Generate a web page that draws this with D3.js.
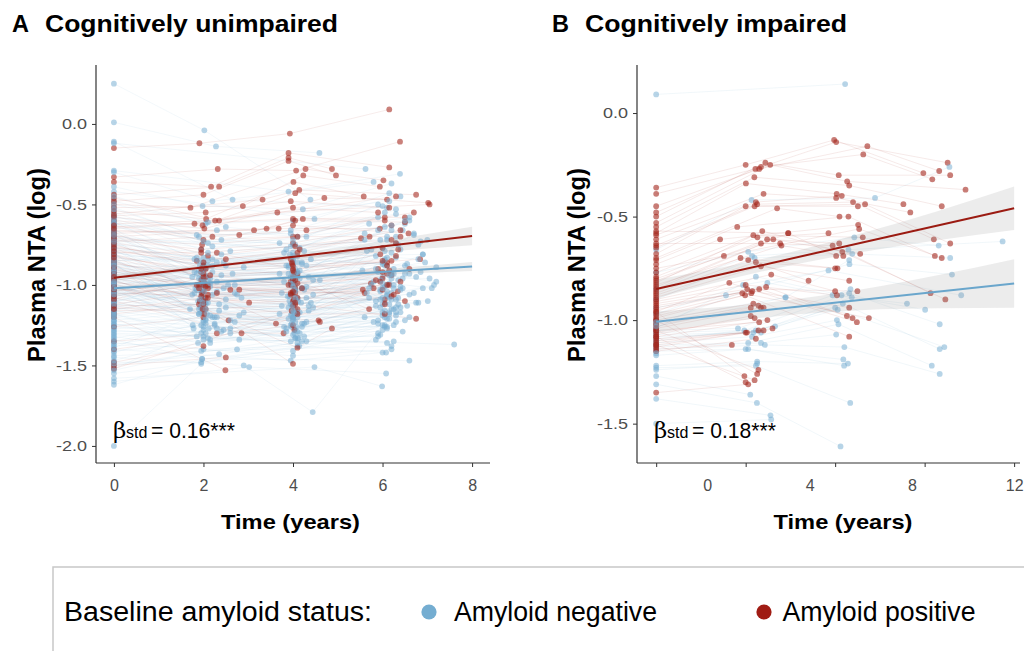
<!DOCTYPE html>
<html>
<head>
<meta charset="utf-8">
<script src="https://cdn.jsdelivr.net/npm/d3@7"></script>
<style>
  body { margin: 0; background: #fff; }
  svg { display: block; font-family: "Liberation Sans", Arial, sans-serif; }
</style>
</head>
<body>
<svg id="chart" width="1024" height="651"></svg>
<script>
// ---- Plasma NTA trajectories: each subject is a flat list [time, value, time, value, ...] ----

// A: cognitively unimpaired, amyloid negative at baseline
const cuNeg = [
  [0,0.25, 2.02,-0.04, 4.39,-0.47],
  [0,0.01, 2.28,-0.14, 4.59,-0.18],
  [0,-0.11, 2.65,-0.47, 6.1,-0.52],
  [0,-0.12, 5.62,-0.28],
  [0,-0.29, 3.90,-0.42, 6.39,-0.31],
  [0,-0.30, 2.20,-0.48, 5.80,-0.36],
  [0,-0.39, 1.98,-0.51, 4.22,-0.53, 6.20,-0.37],
  [0,-0.42, 4.48,-0.59, 6.15,-0.43],
  [0,-0.48, 2.05,-0.62, 4.0,-0.60, 6.4,-0.45],
  [0,-0.52, 1.9,-0.70, 3.95,-0.66, 6.0,-0.51],
  [0,-0.55, 2.1,-0.74, 6.3,-0.56],
  [0,-0.58, 2.3,-0.66, 4.1,-0.70, 5.9,-0.58],
  [0,-0.60, 1.95,-0.78, 6.5,-0.62],
  [0,-0.62, 2.4,-0.72, 4.05,-0.75, 6.05,-0.64],
  [0,-0.64, 4.0,-0.80, 6.2,-0.66],
  [0,-0.66, 1.85,-0.83, 3.85,-0.78, 6.6,-0.60],
  [0,-0.68, 2.0,-0.86, 4.1,-0.82, 6.1,-0.70],
  [0,-0.70, 2.6,-0.79, 5.95,-0.72],
  [0,-0.71, 1.92,-0.88, 4.0,-0.85, 6.3,-0.74],
  [0,-0.73, 3.95,-0.76, 6.0,-0.77],
  [0,-0.74, 2.05,-0.90, 4.2,-0.87, 6.7,-0.68],
  [0,-0.76, 1.8,-0.92, 6.2,-0.80],
  [0,-0.77, 2.2,-0.84, 4.05,-0.90, 5.85,-0.82],
  [0,-0.79, 1.97,-0.95, 3.9,-0.93, 6.4,-0.78],
  [0,-0.80, 4.1,-0.95, 6.05,-0.85],
  [0,-0.82, 2.1,-0.97, 4.0,-0.98, 6.1,-0.88],
  [0,-0.83, 2.5,-0.88, 6.8,-0.75],
  [0,-0.85, 1.9,-1.00, 3.95,-1.00, 6.25,-0.90],
  [0,-0.86, 2.0,-1.02, 4.15,-0.96, 5.9,-0.92],
  [0,-0.87, 4.05,-1.03, 6.0,-0.95],
  [0,-0.88, 1.95,-1.05, 3.98,-1.05, 6.35,-0.97],
  [0,-0.89, 2.3,-0.98, 6.15,-0.99],
  [0,-0.90, 2.0,-1.08, 4.1,-1.08, 6.05,-1.01],
  [0,-0.91, 1.88,-1.10, 6.5,-0.93],
  [0,-0.92, 2.15,-1.01, 3.92,-1.10, 5.95,-1.03],
  [0,-0.93, 4.0,-1.12, 6.2,-1.05],
  [0,-0.94, 2.05,-1.12, 4.05,-1.15, 6.1,-1.07],
  [0,-0.95, 1.93,-1.14, 6.3,-1.09],
  [0,-0.96, 2.7,-1.05, 4.2,-1.02, 5.85,-1.10],
  [0,-0.97, 2.0,-1.16, 3.97,-1.18, 6.0,-1.12],
  [0,-0.98, 4.1,-1.20, 6.4,-1.14],
  [0,-0.99, 1.9,-1.18, 4.0,-1.22, 6.15,-1.17],
  [0,-1.00, 2.2,-1.20, 6.05,-1.20],
  [0,-1.01, 2.0,-1.22, 3.95,-1.25, 5.9,-1.22],
  [0,-1.02, 4.05,-1.28, 6.25,-1.25],
  [0,-1.03, 1.95,-1.25, 4.15,-1.30, 6.1,-1.27],
  [0,-1.04, 2.45,-1.28, 6.9,-1.02],
  [0,-1.05, 2.1,-0.85, 4.0,-0.82, 6.05,-0.79],
  [0,-1.06, 1.85,-0.93, 3.9,-0.89, 6.3,-0.83],
  [0,-1.07, 2.0,-0.99, 4.1,-0.94, 6.0,-0.87],
  [0,-1.08, 2.3,-1.04, 6.2,-0.93],
  [0,-1.09, 1.97,-1.07, 4.05,-1.00, 6.45,-0.96],
  [0,-1.10, 4.0,-1.06, 6.1,-1.00],
  [0,-1.11, 2.05,-1.11, 3.95,-1.12, 5.95,-1.04],
  [0,-1.12, 1.9,-1.15, 6.35,-1.08],
  [0,-1.13, 2.15,-1.19, 4.1,-1.17, 6.05,-1.11],
  [0,-1.14, 2.0,-1.23, 4.0,-1.20, 6.2,-1.15],
  [0,-1.16, 2.6,-1.27, 6.0,-1.19],
  [0,-1.18, 1.95,-1.30, 3.97,-1.26, 6.3,-1.23],
  [0,-1.20, 4.05,-1.33, 6.1,-1.21],
  [0,-1.22, 2.1,-1.33, 4.2,-1.35, 5.9,-1.24],
  [0,-1.24, 1.88,-1.36, 6.4,-1.17],
  [0,-1.26, 2.05,-1.30, 4.1,-1.38, 6.0,-1.28],
  [0,-1.28, 2.8,-1.34, 6.55,-1.13],
  [0,-1.30, 7.6,-1.37],
  [0,-1.32, 2.0,-1.40, 4.14,-1.38, 6.08,-1.42],
  [0,-1.34, 1.97,-1.46, 5.85,-1.34],
  [0,-1.36, 4.0,-1.44, 6.2,-1.40],
  [0,-1.38, 2.15,-1.34, 6.1,-1.36],
  [0,-1.40, 3.95,-1.47, 6.0,-1.42],
  [0,-1.42, 2.25,-1.25, 4.05,-1.33],
  [0,-1.45, 2.9,-1.50, 4.44,-1.79, 6.0,-1.25],
  [0,-1.48, 1.95,-1.48, 5.9,-1.30],
  [0,-1.50, 4.1,-1.33, 6.25,-1.15],
  [0,-1.52, 2.0,-1.28, 6.15,-1.12],
  [0,-1.55, 4.0,-1.41, 6.05,-1.25],
  [0,-1.58, 4.48,-1.51, 5.99,-1.63],
  [0,-1.60, 3.02,-1.51, 6.08,-1.55],
  [0,-1.62, 1.97,-1.46, 6.6,-1.47],
  [0,-2.00, 1.95,-1.49],
  [0,-0.62, 4.0,-0.75, 7.0,-0.72],
  [0,-0.75, 2.1,-0.80, 7.2,-0.89],
  [0,-0.85, 6.9,-0.81],
  [0,-0.95, 4.1,-0.92, 7.1,-1.02],
  [0,-1.05, 7.01,-1.10],
  [0,-0.88, 2.2,-0.92, 6.75,-0.95],
  [0,-0.70, 6.8,-0.84],
  [0,-1.15, 4.3,-1.08, 6.6,-1.06],
  [0,-0.80, 2.0,-0.88, 4.0,-0.84, 6.5,-0.88],
  [0,-0.92, 1.95,-0.96, 3.98,-0.92, 6.0,-0.86],
  [0,-1.00, 2.05,-0.94, 4.02,-0.97, 6.15,-0.94],
  [0,-0.78, 2.0,-0.83, 4.0,-0.87, 6.1,-0.83],
  [0,-1.10, 1.95,-1.03, 4.05,-1.03, 6.25,-1.02],
  [0,-0.98, 2.0,-1.00, 3.95,-0.95, 5.95,-0.97],
  [0,-0.82, 4.2,-0.86, 6.3,-0.70],
  [0,-1.25, 2.3,-1.20, 4.0,-1.12, 5.95,-1.09],
  [0,-0.96, 2.9,-0.89, 4.6,-0.97],
  [0,-1.02, 1.75,-1.06, 4.45,-1.06, 5.75,-1.00],
  [0,-0.72, 3.7,-0.74, 5.6,-0.68],
  [0,-0.86, 2.0,-0.90, 4.05,-0.93, 6.2,-0.93],
  [0,-0.61, 1.8,-0.84, 3.8,-0.80, 5.7,-0.62],
  [0,-0.63, 2.45,-0.86, 6.45,-0.66],
  [0,-0.65, 1.75,-0.95, 4.3,-0.88, 6.85,-0.73],
  [0,-0.67, 2.15,-0.96, 3.7,-0.93, 5.65,-0.79],
  [0,-0.69, 2.55,-1.00, 4.45,-0.97, 6.95,-0.86],
  [0,-0.72, 1.82,-1.02, 4.0,-0.99, 6.05,-0.88],
  [0,-0.74, 2.75,-1.06, 4.25,-1.03, 5.55,-0.91],
  [0,-0.76, 2.0,-1.09, 3.88,-1.07, 6.6,-0.93],
  [0,-0.78, 2.35,-1.12, 4.12,-1.10, 6.2,-0.96],
  [0,-0.80, 1.7,-1.15, 3.75,-1.13, 5.8,-0.98],
  [0,-0.81, 2.9,-1.17, 4.35,-1.16, 7.15,-1.00],
  [0,-0.83, 2.05,-1.21, 3.95,-1.19, 6.4,-1.03],
  [0,-0.84, 2.25,-1.24, 4.05,-1.23, 6.1,-1.06],
  [0,-0.86, 1.78,-1.27, 4.2,-1.26, 5.7,-1.08],
  [0,-0.87, 2.6,-1.30, 3.85,-1.29, 6.75,-1.11],
  [0,-0.89, 2.1,-0.88, 4.4,-0.84, 6.3,-1.14],
  [0,-0.90, 1.9,-0.91, 3.9,-0.88, 6.0,-1.17],
  [0,-0.92, 2.4,-0.94, 4.15,-0.91, 5.6,-1.20],
  [0,-0.93, 2.0,-0.97, 4.0,-0.95, 6.5,-0.60],
  [0,-0.95, 2.7,-1.00, 3.8,-0.98, 6.2,-0.63],
  [0,-0.96, 1.85,-1.03, 4.3,-1.01, 5.9,-0.66],
  [0,-0.97, 2.2,-1.06, 4.05,-1.04, 6.7,-0.69],
  [0,-0.98, 2.5,-1.09, 3.92,-1.07, 6.1,-0.72],
  [0,-1.00, 1.95,-1.13, 4.18,-1.11, 6.35,-0.75],
  [0,-1.01, 2.35,-1.16, 4.45,-1.14, 5.75,-0.78],
  [0,-1.03, 2.8,-1.19, 3.7,-1.18, 6.9,-0.81],
  [0,-1.04, 2.05,-1.22, 4.0,-1.21, 6.05,-0.84],
  [0,-1.05, 1.76,-1.25, 4.25,-1.24, 6.55,-0.87],
  [0,-1.07, 2.3,-0.86, 3.85,-0.88, 5.85,-0.90],
  [0,-1.08, 2.0,-0.90, 4.1,-0.92, 6.25,-0.93],
  [0,-1.10, 2.65,-0.93, 4.35,-0.95, 7.05,-0.96],
  [0,-1.11, 1.9,-0.96, 3.95,-0.99, 6.0,-0.99],
  [0,-1.13, 2.15,-0.99, 4.2,-1.02, 6.45,-1.02],
  [0,-1.14, 2.45,-1.02, 3.75,-1.05, 5.65,-1.05],
  [0,-1.16, 1.8,-1.05, 4.05,-1.08, 6.15,-1.08],
  [0,-1.17, 2.85,-1.08, 4.4,-1.11, 6.8,-1.11],
  [0,-1.19, 2.1,-1.11, 3.9,-1.14, 5.95,-1.14],
  [0,-1.20, 2.5,-1.14, 4.15,-1.17, 6.3,-1.17],
  [0,-1.22, 1.95,-1.17, 4.0,-1.20, 6.6,-1.20],
  [0,-1.23, 2.25,-1.20, 4.3,-1.23, 5.8,-1.23],
  [0,-1.25, 2.7,-1.23, 3.8,-1.26, 6.1,-1.26],
  [0,-1.27, 2.0,-1.26, 4.1,-1.29, 6.45,-1.29],
  [0,-1.29, 2.4,-1.29, 4.25,-1.32, 5.9,-1.32],
  [0,-1.31, 1.85,-1.32, 3.95,-1.35, 6.25,-1.35],
  [0,-1.33, 2.6,-1.22, 4.05,-1.18, 6.7,-1.05],
  [0,-1.35, 2.05,-1.24, 3.9,-1.21, 6.0,-1.08],
  [0,-1.37, 2.3,-1.27, 4.2,-1.24, 6.35,-1.12],
  [0,-1.39, 1.9,-1.18, 4.35,-1.13, 5.7,-1.02],
  [0,-1.41, 2.15,-1.36, 4.0,-1.31, 6.15,-1.18],
  [0,-1.44, 2.75,-1.40, 4.1,-1.36, 6.5,-1.22],
  [0,-1.47, 2.0,-1.32, 3.85,-1.27, 6.05,-1.26],
  [0,-1.49, 2.35,-1.43, 4.3,-1.35, 5.95,-1.31],
  [0,-1.53, 1.95,-1.41, 6.2,-1.38],
  [0,-0.57, 2.0,-0.73, 4.0,-0.72, 6.05,-0.55],
  [0,-0.59, 2.2,-0.76, 4.15,-0.77, 6.3,-0.53],
  [0,-0.53, 1.85,-0.69, 3.95,-0.68, 6.6,-0.58],
  [0,-0.50, 2.5,-0.64, 4.3,-0.70, 5.9,-0.50],
  [0,-0.45, 2.1,-0.61, 6.15,-0.48],
  [0,-0.69, 2.0,-0.98, 4.05,-1.09, 6.25,-1.00],
  [0,-0.88, 1.98,-1.11, 4.0,-1.16, 6.1,-1.04],
  [0,-0.94, 2.02,-1.04, 3.98,-1.13, 6.0,-1.02],
  [0,-1.06, 1.92,-1.09, 4.02,-1.17, 6.2,-1.09],
  [0,-0.99, 2.08,-1.18, 4.08,-1.26, 5.85,-1.13],
  [0,-0.91, 1.96,-0.92, 4.0,-1.01, 6.4,-1.01],
  [0,-1.12, 2.05,-1.15, 3.97,-1.24, 6.05,-1.16],
  [0,-1.18, 2.0,-1.34, 4.03,-1.30, 6.3,-1.19],
  [0,-1.02, 2.12,-1.27, 4.12,-1.33, 6.15,-1.21],
  [0,-0.73, 1.9,-0.85, 3.93,-0.81, 5.6,-0.72],
  [0,-0.85, 2.4,-0.81, 4.25,-0.79, 6.85,-0.92],
  [0,-0.98, 2.2,-0.88, 4.1,-0.86, 7.2,-0.98]
];

// A: cognitively unimpaired, amyloid positive at baseline
const cuPos = [
  [0,-0.15, 1.91,-0.12, 3.93,-0.06, 6.15,0.09],
  [0,-0.33, 2.32,-0.28, 4.07,-0.29, 6.39,-0.11],
  [0,-0.36, 2.17,-0.39, 3.90,-0.18, 6.15,-0.27],
  [0,-0.44, 2.35,-0.39, 3.90,-0.21, 4.87,-0.28],
  [0,-0.48, 2.0,-0.44, 3.90,-0.23, 4.96,-0.32],
  [0,-0.50, 1.71,-0.52, 4.28,-0.28, 6.02,-0.35],
  [0,-0.52, 2.88,-0.51, 4.23,-0.32, 5.94,-0.39],
  [0,-0.54, 2.06,-0.59, 4.01,-0.36, 5.58,-0.45],
  [0,-0.56, 3.32,-0.47, 4.14,-0.41, 6.75,-0.44],
  [0,-0.58, 1.98,-0.63, 4.05,-0.43, 7.02,-0.49],
  [0,-0.60, 2.02,-0.65, 4.70,-0.46, 6.1,-0.47],
  [0,-0.62, 2.26,-0.60, 3.65,-0.55, 7.05,-0.50],
  [0,-0.64, 4.0,-0.59, 6.5,-0.58],
  [0,-0.66, 2.80,-0.69, 4.05,-0.60, 6.5,-0.61],
  [0,-0.67, 3.13,-0.66, 4.0,-0.63, 6.58,-0.68],
  [0,-0.68, 3.41,-0.65, 4.22,-0.59, 6.05,-0.60],
  [0,-0.70, 3.68,-0.65, 5.94,-0.65],
  [0,-0.72, 1.95,-0.78, 4.0,-0.74, 6.2,-0.63],
  [0,-0.74, 2.1,-0.82, 5.52,-0.71],
  [0,-0.76, 1.85,-0.85, 4.1,-0.80, 5.71,-0.70],
  [0,-0.78, 2.0,-0.88, 3.95,-0.84, 6.0,-0.77],
  [0,-0.80, 2.3,-0.80, 4.0,-0.90, 6.84,-0.84],
  [0,-0.82, 1.95,-0.92, 6.1,-0.86],
  [0,-0.84, 2.05,-0.95, 4.1,-0.93, 6.3,-0.82],
  [0,-0.86, 2.0,-0.98, 4.0,-0.97, 5.9,-0.90],
  [0,-0.88, 1.9,-1.00, 3.97,-1.00, 6.2,-0.94],
  [0,-0.90, 2.1,-1.02, 4.05,-1.02, 5.74,-0.99],
  [0,-0.92, 2.6,-1.03, 5.56,-1.03],
  [0,-0.94, 2.8,-1.03, 4.0,-1.05, 6.34,-1.04],
  [0,-0.96, 1.97,-1.05, 4.1,-1.08, 6.05,-1.09],
  [0,-0.98, 2.05,-1.08, 6.15,-1.00],
  [0,-1.00, 3.02,-1.11, 4.0,-1.10],
  [0,-1.02, 1.92,-1.10, 4.05,-1.12, 6.75,-1.21],
  [0,-1.04, 2.0,-0.98, 4.0,-0.95, 6.1,-0.93],
  [0,-1.06, 2.1,-1.00, 3.95,-0.98, 6.0,-0.96],
  [0,-1.08, 2.56,-1.22, 3.62,-1.24, 5.6,-1.05],
  [0,-1.10, 2.85,-1.30, 3.79,-1.30],
  [0,-1.12, 2.0,-1.04, 4.03,-1.28],
  [0,-1.14, 4.57,-1.22, 6.05,-1.12],
  [0,-1.16, 2.05,-1.15, 4.10,-1.39, 4.87,-1.27],
  [0,-1.18, 1.9,-1.12, 4.0,-1.49],
  [0,-1.20, 2.49,-1.53],
  [0,-1.26, 2.0,-1.20, 4.6,-1.23],
  [0,-1.35, 2.3,-1.30, 4.1,-1.15],
  [0,-1.40, 4.0,-1.25],
  [0,-1.48, 2.0,-1.38],
  [0,-1.50, 2.5,-1.45],
  [0,-1.52, 6.1,-1.00],
  [0,-0.46, 2.35,-0.60, 6.3,-0.45],
  [0,-0.87, 2.0,-0.93, 4.02,-0.92, 6.2,-0.85],
  [0,-0.91, 1.95,-0.97, 4.0,-0.96, 6.15,-0.91],
  [0,-0.99, 2.05,-1.01, 4.05,-1.05, 5.95,-0.98],
  [0,-0.79, 2.0,-0.86, 3.98,-0.87, 6.35,-0.78],
  [0,-0.71, 1.97,-0.75, 4.1,-0.70, 6.4,-0.70],
  [0,-1.05, 1.95,-1.07, 3.95,-1.06, 6.0,-1.03],
  [0,-0.63, 2.0,-0.72, 4.0,-0.70, 6.05,-0.58],
  [0,-0.69, 1.95,-0.80, 4.05,-0.76, 6.2,-0.72],
  [0,-0.75, 2.05,-0.90, 3.98,-0.86, 6.3,-0.74],
  [0,-0.81, 2.0,-0.95, 4.0,-0.91, 5.95,-0.81],
  [0,-0.85, 1.9,-1.02, 4.1,-0.99, 6.1,-0.88],
  [0,-0.89, 2.1,-1.06, 3.95,-1.05, 6.0,-0.92],
  [0,-0.93, 2.0,-1.10, 4.02,-1.09, 6.4,-0.98],
  [0,-0.97, 1.98,-1.15, 4.0,-1.13, 5.8,-1.02],
  [0,-1.01, 2.02,-1.18, 3.97,-1.16, 6.2,-1.07],
  [0,-1.03, 2.3,-1.05, 4.2,-1.02, 6.5,-1.10],
  [0,-1.07, 1.85,-1.00, 4.05,-0.97, 5.7,-1.15],
  [0,-1.09, 2.15,-0.94, 3.9,-1.00, 6.6,-0.90],
  [0,-1.13, 2.0,-1.12, 4.1,-1.18, 6.05,-1.18],
  [0,-0.73, 2.2,-0.70, 4.3,-0.66, 6.7,-0.55],
  [0,-0.65, 1.8,-0.62, 4.0,-0.52, 5.9,-0.55],
  [0,-0.57, 2.05,-0.55, 3.95,-0.48, 6.15,-0.52],
  [0,-0.77, 2.5,-0.84, 4.15,-0.78, 6.4,-0.66],
  [0,-0.95, 2.0,-1.00, 4.0,-1.04, 6.25,-1.06],
  [0,-1.15, 2.1,-1.08, 4.05,-1.11, 5.85,-0.97],
  [0,-0.83, 1.95,-0.90, 4.0,-0.88, 6.0,-0.85]
];

// B: cognitively impaired, amyloid negative at baseline
const ciNeg = [
  [-2,0.09, 5.39,0.14],
  [-2,-0.66, 1.73,-0.42, 6.56,-0.41, 9.47,-0.26],
  [-2,-0.77, 1.6,-0.67, 5.75,-0.60, 9.05,-0.64],
  [-2,-0.85, 1.75,-0.69, 5.52,-0.66, 11.55,-0.62],
  [-2,-0.90, 1.85,-0.70, 5.67,-0.68, 9.5,-0.70],
  [-2,-0.94, 0.73,-0.88, 5.56,-0.73, 9.57,-0.78],
  [-2,-0.97, 1.4,-0.83, 4.74,-0.76, 9.93,-0.88],
  [-2,-1.00, 3.05,-0.89, 5.55,-0.71],
  [-2,-1.02, 2.35,-0.82, 4.9,-0.88, 7.81,-0.92],
  [-2,-1.04, 1.9,-0.79, 5.25,-0.88, 8.52,-0.95],
  [-2,-1.05, 1.2,-1.04, 5.6,-0.85],
  [-2,-1.06, 1.45,-1.05, 5.55,-0.87, 9.09,-1.02],
  [-2,-1.07, 1.8,-1.06, 5.65,-0.89],
  [-2,-1.08, 2.1,-1.06, 5.3,-0.92, 9.09,-1.14],
  [-2,-1.09, 1.9,-1.05, 5.0,-0.94],
  [-2,-1.10, 2.65,-1.03, 5.1,-0.95, 9.27,-1.13],
  [-2,-1.11, 1.75,-1.08, 5.07,-1.00],
  [-2,-1.12, 1.6,-1.11, 5.13,-1.02, 8.78,-1.22],
  [-2,-1.13, 2.1,-1.11, 5.04,-1.07],
  [-2,-1.14, 2.25,-1.12, 5.36,-1.13, 9.09,-1.26],
  [-2,-1.15, 1.5,-1.14, 5.32,-1.19],
  [-2,-1.17, 1.6,-1.14, 5.35,-1.22],
  [-2,-1.22, 1.95,-1.20, 5.5,-1.21],
  [-2,-1.23, 1.9,-1.22, 5.59,-1.40],
  [-2,-1.24, 1.95,-1.21],
  [-2,-1.27, 1.68,-1.36],
  [-2,-1.31, 1.94,-1.40, 5.21,-1.61],
  [-2,-1.38, 2.47,-1.46],
  [-2,-1.50, 2.5,-1.48],
  [-2,-1.03, 3.07,-0.89],
  [-2,-1.01],
  [-2,-1.16]
];

// B: cognitively impaired, amyloid positive at baseline
const ciPos = [
  [-2,-0.36, 1.5,-0.25, 4.96,-0.13, 8.45,-0.29],
  [-2,-0.39, 1.88,-0.27, 5.04,-0.14, 9.4,-0.24],
  [-2,-0.45, 2.03,-0.27, 6.26,-0.16, 9.07,-0.28],
  [-2,-0.48, 2.1,-0.26, 6.1,-0.20, 8.8,-0.32],
  [-2,-0.50, 2.27,-0.24, 5.14,-0.30, 9.5,-0.30],
  [-2,-0.53, 2.46,-0.25, 5.47,-0.33, 10.1,-0.37],
  [-2,-0.55, 1.84,-0.31, 5.55,-0.35, 9.17,-0.45],
  [-2,-0.58, 1.51,-0.34, 5.06,-0.39, 7.67,-0.44],
  [-2,-0.59, 2.2,-0.39, 5.04,-0.41, 7.94,-0.48],
  [-2,-0.61, 1.9,-0.43, 5.26,-0.40],
  [-2,-0.64, 1.95,-0.44, 5.7,-0.43, 8.86,-0.61],
  [-2,-0.65, 1.85,-0.45, 5.89,-0.45],
  [-2,-0.68, 1.5,-0.45, 6.17,-0.44, 9.5,-0.63],
  [-2,-0.70, 2.73,-0.46, 5.17,-0.50],
  [-2,-0.71, 1.17,-0.55, 5.52,-0.50, 8.9,-0.69],
  [-2,-0.73, 0.5,-0.61, 5.9,-0.54],
  [-2,-0.75, 0.65,-0.69, 5.94,-0.56, 9.17,-0.70],
  [-2,-0.77, 1.8,-0.59, 6.08,-0.60],
  [-2,-0.79, 1.96,-0.60, 4.74,-0.58],
  [-2,-0.80, 2.1,-0.63, 4.9,-0.64, 8.73,-0.87],
  [-2,-0.81, 2.34,-0.61, 5.16,-0.63],
  [-2,-0.82, 2.15,-0.57, 5.28,-0.67, 9.31,-0.90],
  [-2,-0.83, 2.9,-0.64, 5.32,-0.69],
  [-2,-0.84, 3.17,-0.58, 5.04,-0.69],
  [-2,-0.85, 2.58,-0.61, 5.98,-0.68],
  [-2,-0.86, 1.3,-0.70, 5.09,-0.75],
  [-2,-0.87, 1.6,-0.71, 3.96,-0.81],
  [-2,-0.88, 1.9,-0.72, 5.0,-0.75],
  [-2,-0.89, 2.1,-0.74, 5.55,-0.81],
  [-2,-0.90, 2.5,-0.78, 5.0,-0.86],
  [-2,-0.91, 1.5,-0.83, 5.07,-0.88],
  [-2,-0.92, 1.56,-0.85, 5.87,-0.86],
  [-2,-0.93, 1.76,-0.86, 5.55,-0.94],
  [-2,-0.94, 2.03,-0.85, 5.46,-0.98],
  [-2,-0.95, 2.3,-0.84, 5.68,-0.99],
  [-2,-0.96, 0.86,-0.82, 5.85,-1.01],
  [-2,-0.97, 1.37,-0.87, 6.32,-0.99],
  [-2,-0.98, 1.48,-0.88, 5.55,-1.08],
  [-2,-0.99, 1.72,-0.87],
  [-2,-1.00, 1.8,-0.92],
  [-2,-1.01, 2.0,-0.93],
  [-2,-1.02, 2.1,-0.94],
  [-2,-1.03, 1.7,-0.94],
  [-2,-1.04, 2.2,-0.94],
  [-2,-1.05, 2.03,-1.01],
  [-2,-1.06, 1.85,-0.99],
  [-2,-1.07, 1.7,-0.98],
  [-2,-1.08, 2.35,-1.00],
  [-2,-1.09, 1.5,-1.06],
  [-2,-1.10, 1.55,-1.06],
  [-2,-1.11, 2.0,-1.05],
  [-2,-1.12, 2.2,-1.05],
  [-2,-1.13, 2.55,-1.04],
  [-2,-1.14, 0.96,-1.12],
  [-2,-1.15, 1.9,-1.09],
  [-2,-1.05, 2.0,-1.24],
  [-2,-1.00, 1.95,-1.26],
  [-2,-0.96, 1.45,-1.27],
  [-2,-1.08, 1.5,-1.30],
  [-2,-1.35, 1.6,-1.31],
  [-2,-1.12, 1.85,-1.29],
  [-2,-0.63, 2.85,-0.63],
  [-2,-0.57, 3.16,-0.58]
];

// ---- Model fits: line end points [time, value] and confidence bands [time, lower, upper] ----
const fitCuNeg = [[0,-1.021],[8,-0.886]];
const fitCuPos = [[0,-0.955],[8,-0.696]];
const bandCuNeg = [[0,-1.036,-1.006],[2,-0.997,-0.977],[4,-0.964,-0.942],[6,-0.937,-0.903],[8,-0.914,-0.858]];
const bandCuPos = [[0,-0.975,-0.935],[2,-0.904,-0.876],[4,-0.843,-0.807],[6,-0.795,-0.727],[8,-0.754,-0.638]];

const fitCiNeg = [[-2,-1.008],[12,-0.823]];
const fitCiPos = [[-2,-0.850],[12,-0.460]];
const bandCiNeg = [[-2,-1.058,-0.958],[2,-0.990,-0.920],[6,-0.952,-0.852],[9,-0.943,-0.783],[12,-0.940,-0.706]];
const bandCiPos = [[-2,-0.895,-0.805],[2,-0.769,-0.709],[6,-0.672,-0.582],[9,-0.614,-0.474],[12,-0.565,-0.355]];

// ---- Axis ticks and labels ----
const yTicksA = [0, -0.5, -1, -1.5, -2];
const xTicksA = [0, 2, 4, 6, 8];
const yTicksB = [0, -0.5, -1, -1.5];
const xTickMarksB = [-2, 1.5, 5, 8.5, 12];
const xTickLabelsB = [0, 4, 8, 12];

const betaA = "0.16***";
const betaB = "0.18***";

const legendTitle = "Baseline amyloid status:";
const legendLabels = ["Amyloid negative", "Amyloid positive"];

// ---- Styling ----
const colNeg = "#74add1", colPos = "#a3261c";
const lineNeg = "#6aa6cc", linePos = "#9b1b12";

const svg = d3.select("#chart");

function pairs(flat) {
  const out = [];
  for (let i = 0; i < flat.length; i += 2) out.push([flat[i], flat[i + 1]]);
  return out;
}

// interleave two subject lists so neither group is drawn entirely on top
function interleave(a, b) {
  const out = [];
  const n = Math.max(a.length, b.length);
  for (let i = 0; i < n; i++) {
    const ia = Math.floor(i * a.length / n), ib = Math.floor(i * b.length / n);
    if (i * a.length % n < a.length) out.push({ s: a[ia], neg: true });
    if (i * b.length % n < b.length) out.push({ s: b[ib], neg: false });
  }
  return out;
}

// stretch a text element horizontally by factor k
function stretch(sel, k) {
  sel.each(function () {
    const w = this.getComputedTextLength();
    d3.select(this).attr("textLength", w * k).attr("lengthAdjust", "spacingAndGlyphs");
  });
}
function fitWidth(sel, w) {
  sel.attr("textLength", w).attr("lengthAdjust", "spacingAndGlyphs");
}

function drawPanel(p) {
  const g = svg.append("g");
  const x = d3.scaleLinear().domain(p.xDomain).range([p.left, p.right]);
  const y = d3.scaleLinear().domain(p.yDomain).range([p.bottom, p.top]);

  const path = d3.line().x(d => x(d[0])).y(d => y(d[1]));
  const subjects = interleave(p.neg, p.pos);

  // subject trajectories
  g.append("g").attr("fill", "none").attr("stroke-width", 0.6)
    .selectAll("path").data(subjects.filter(d => d.s.length > 2)).join("path")
    .attr("d", d => path(pairs(d.s)))
    .attr("stroke", d => d.neg ? colNeg : colPos)
    .attr("stroke-opacity", p.lineOpacity);

  // observations
  const pts = subjects.flatMap(d => pairs(d.s).map(q => ({ t: q[0], v: q[1], neg: d.neg })));
  g.append("g").selectAll("circle").data(pts).join("circle")
    .attr("cx", d => x(d.t)).attr("cy", d => y(d.v)).attr("r", 2.9)
    .attr("fill", d => d.neg ? colNeg : colPos)
    .attr("fill-opacity", d => d.neg ? 0.52 : p.posOpacity);

  // confidence bands
  const area = d3.area().curve(d3.curveMonotoneX)
    .x(d => x(d[0])).y0(d => y(d[1])).y1(d => y(d[2]));
  [p.bandNeg, p.bandPos].forEach(b => {
    g.append("path").attr("d", area(b)).attr("fill", "#8c8c8c").attr("fill-opacity", 0.17);
  });

  // fitted lines
  [[p.fitNeg, lineNeg], [p.fitPos, linePos]].forEach(([f, c]) => {
    g.append("path").attr("d", path(f)).attr("fill", "none")
      .attr("stroke", c).attr("stroke-width", 2);
  });

  // axes
  const axisStyle = a => {
    a.select(".domain").remove();
    a.selectAll(".tick line").attr("stroke", "#333").attr("stroke-width", 1);
    a.selectAll(".tick text").attr("fill", "#4d4d4d").attr("font-size", 15)
      .attr("font-family", "'Liberation Sans', Arial, sans-serif");
  };

  const yAxis = g.append("g").attr("transform", `translate(${p.left},0)`)
    .call(d3.axisLeft(y).tickValues(p.yTicks).tickSize(4).tickPadding(5)
      .tickFormat(v => v.toFixed(1)))
    .call(axisStyle);
  stretch(yAxis.selectAll(".tick text"), 1.2);

  const xAxis = g.append("g").attr("transform", `translate(0,${p.bottom})`)
    .call(d3.axisBottom(x).tickValues(p.xTickMarks).tickSize(4)
      .tickFormat(p.xTickLabels ? "" : d3.format("d")))
    .call(axisStyle);
  xAxis.selectAll(".tick text").attr("y", 28).attr("dy", null).attr("font-size", 16);

  if (p.xTickLabels) {
    const lab = g.append("g").attr("transform", `translate(0,${p.bottom})`)
      .call(d3.axisBottom(x).tickValues(p.xTickLabels).tickSize(0).tickFormat(d3.format("d")))
      .call(axisStyle);
    lab.selectAll(".tick text").attr("y", 28).attr("dy", null).attr("font-size", 16);
  }

  // axis lines
  g.append("line").attr("x1", p.left).attr("x2", p.left).attr("y1", p.top).attr("y2", p.bottom)
    .attr("stroke", "#333").attr("stroke-width", 1.2);
  g.append("line").attr("x1", p.left).attr("x2", p.right).attr("y1", p.bottom).attr("y2", p.bottom)
    .attr("stroke", "#333").attr("stroke-width", 1.2);

  // axis titles
  const xt = g.append("text").attr("x", p.xTitleX).attr("y", 529).attr("text-anchor", "middle")
    .attr("font-weight", "bold").attr("font-size", 21).attr("fill", "#000").text("Time (years)");
  fitWidth(xt, 139);

  const yt = g.append("text").attr("transform", `translate(${p.yTitleX},265) rotate(-90)`)
    .attr("text-anchor", "middle").attr("font-weight", "bold").attr("font-size", 23)
    .attr("fill", "#000").text("Plasma NTA (log)");
  fitWidth(yt, 194);

  // panel title
  g.append("text").attr("x", p.titleX).attr("y", 32).attr("font-weight", "bold")
    .attr("font-size", 23.5).attr("fill", "#000").text(p.letter);
  const tt = g.append("text").attr("x", p.titleX + 33).attr("y", 32).attr("font-weight", "bold")
    .attr("font-size", 23.5).attr("fill", "#000").text(p.title);
  fitWidth(tt, p.titleW);

  // standardized effect
  const bt = g.append("text").attr("y", 438).attr("fill", "#000");
  bt.append("tspan").attr("x", p.betaX).attr("font-size", 23)
    .attr("font-family", "'DejaVu Serif', serif").text("\u03B2");
  bt.append("tspan").attr("x", p.betaX + 13).attr("font-size", 16).text("std");
  const bv = bt.append("tspan").attr("x", p.betaX + 38).attr("font-size", 22).text("= " + p.beta);
  fitWidth(bv, 84);
}

drawPanel({
  left: 96, right: 490, top: 65, bottom: 463,
  xDomain: [-0.4, 8.4], yDomain: [-2.106, 0.366],
  neg: cuNeg, pos: cuPos, lineOpacity: 0.15, posOpacity: 0.58,
  fitNeg: fitCuNeg, fitPos: fitCuPos, bandNeg: bandCuNeg, bandPos: bandCuPos,
  yTicks: yTicksA, xTickMarks: xTicksA, xTickLabels: null,
  xTitleX: 290.5, yTitleX: 45, titleX: 12, letter: "A",
  title: "Cognitively unimpaired", titleW: 293,
  betaX: 113, beta: betaA
});

drawPanel({
  left: 637, right: 1020, top: 65, bottom: 463,
  xDomain: [-2.75, 12.23], yDomain: [-1.69, 0.232],
  neg: ciNeg, pos: ciPos, lineOpacity: 0.17, posOpacity: 0.6,
  fitNeg: fitCiNeg, fitPos: fitCiPos, bandNeg: bandCiNeg, bandPos: bandCiPos,
  yTicks: yTicksB, xTickMarks: xTickMarksB, xTickLabels: xTickLabelsB,
  xTitleX: 843, yTitleX: 585, titleX: 552, letter: "B",
  title: "Cognitively impaired", titleW: 262,
  betaX: 654, beta: betaB
});

// ---- Legend ----
const leg = svg.append("g");
leg.append("rect").attr("x", 53).attr("y", 567).attr("width", 1000).attr("height", 120)
  .attr("fill", "#fff").attr("stroke", "#c8c8c8").attr("stroke-width", 1.5);
const lt = leg.append("text").attr("x", 64).attr("y", 621).attr("font-size", 27).attr("fill", "#000")
  .text(legendTitle);
fitWidth(lt, 308);
const legendItems = [
  { label: legendLabels[0], color: colNeg, cx: 429, tx: 454, w: 203 },
  { label: legendLabels[1], color: "#a01c14", cx: 764, tx: 782.5, w: 193 }
];
legendItems.forEach(it => {
  leg.append("circle").attr("cx", it.cx).attr("cy", 612).attr("r", 7.6).attr("fill", it.color);
  const t = leg.append("text").attr("x", it.tx).attr("y", 621).attr("font-size", 27)
    .attr("fill", "#000").text(it.label);
  fitWidth(t, it.w);
});
</script>
</body>
</html>
